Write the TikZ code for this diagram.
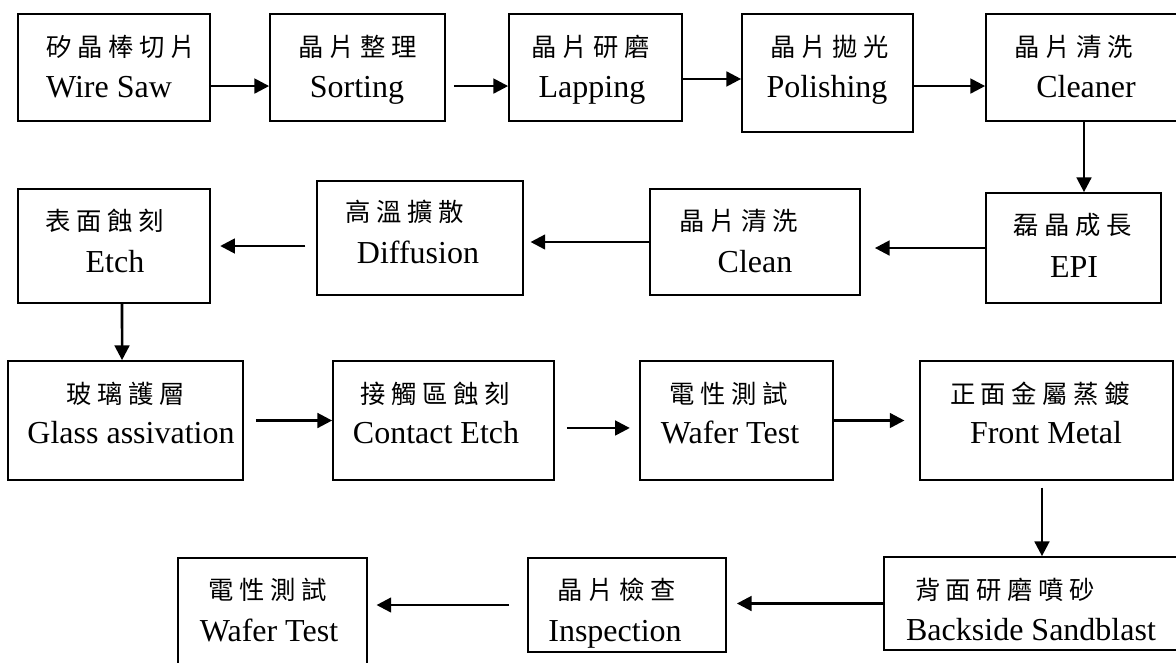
\documentclass[tikz,border=0pt]{standalone}
\usepackage{fontspec}
\setmainfont{Liberation Serif}
\newfontfamily\cjk{Noto Sans CJK TC}[LetterSpace=22]
\usetikzlibrary{arrows.meta}

\begin{document}
\begin{tikzpicture}[x=0.75pt, y=-0.75pt,
  stepbox/.style = {draw, line width=1.3pt, inner sep=0pt},
  zh/.style = {inner sep=0pt, font=\cjk\fontsize{19}{21}\selectfont},
  en/.style = {inner sep=0pt, anchor=base, font=\fontsize{24}{27}\selectfont},
  flow/.style = {line width=1.9pt, -{Triangle[length=11pt, width=11pt]}}]
  \useasboundingbox (0, 0) rectangle (1176, 662);

  \node[stepbox, minimum width=144pt, minimum height=80.25pt] (saw) at (114, 67.5) {};
  \node[stepbox, minimum width=131.25pt, minimum height=80.25pt] (sort) at (357.5, 67.5) {};
  \node[stepbox, minimum width=129.75pt, minimum height=80.25pt] (lap) at (595.5, 67.5) {};
  \node[stepbox, minimum width=128.25pt, minimum height=88.5pt] (pol) at (827.5, 73) {};
  \node[stepbox, minimum width=147pt, minimum height=80.25pt] (clean1) at (1084, 67.5) {};

  \node[stepbox, minimum width=131.25pt, minimum height=82.5pt] (epi) at (1073.5, 248) {};
  \node[stepbox, minimum width=157.5pt, minimum height=79.5pt] (clean2) at (755, 242) {};
  \node[stepbox, minimum width=154.5pt, minimum height=85.5pt] (diff) at (420, 238) {};
  \node[stepbox, minimum width=144pt, minimum height=85.5pt] (etch) at (114, 246) {};

  \node[stepbox, minimum width=176.25pt, minimum height=89.25pt] (glass) at (125.5, 420.5) {};
  \node[stepbox, minimum width=165.75pt, minimum height=89.25pt] (contact) at (443.5, 420.5) {};
  \node[stepbox, minimum width=144.75pt, minimum height=89.25pt] (test1) at (736.5, 420.5) {};
  \node[stepbox, minimum width=189.75pt, minimum height=89.25pt] (metal) at (1046.5, 420.5) {};

  \node[stepbox, minimum width=223.5pt, minimum height=69.75pt] (back) at (1033, 603.5) {};
  \node[stepbox, minimum width=148.5pt, minimum height=70.5pt] (insp) at (627, 605) {};
  \node[stepbox, minimum width=141.75pt, minimum height=91.5pt] (test2) at (272.5, 619) {};

  \node[zh] (saw-zh) at (121, 47) {矽晶棒切片};
  \node[en] (saw-en) at (109, 97) {Wire Saw};
  \node[zh] (sort-zh) at (358, 47) {晶片整理};
  \node[en] (sort-en) at (357, 97) {Sorting};
  \node[zh] (lap-zh) at (591, 47) {晶片研磨};
  \node[en] (lap-en) at (592, 97) {Lapping};
  \node[zh] (pol-zh) at (830, 47) {晶片拋光};
  \node[en] (pol-en) at (827, 97) {Polishing};
  \node[zh] (clean1-zh) at (1074, 47) {晶片清洗};
  \node[en] (clean1-en) at (1086, 97) {Cleaner};

  \node[zh] (epi-zh) at (1073, 225) {磊晶成長};
  \node[en] (epi-en) at (1074, 277) {EPI};
  \node[zh] (clean2-zh) at (739, 221) {晶片清洗};
  \node[en] (clean2-en) at (755, 272) {Clean};
  \node[zh] (diff-zh) at (405, 212) {高溫擴散};
  \node[en] (diff-en) at (418, 263) {Diffusion};
  \node[zh] (etch-zh) at (105, 221) {表面蝕刻};
  \node[en] (etch-en) at (115, 272) {Etch};

  \node[zh] (glass-zh) at (126, 394) {玻璃護層};
  \node[en] (glass-en) at (131, 443) {Glass assivation};
  \node[zh] (contact-zh) at (435, 394) {接觸區蝕刻};
  \node[en] (contact-en) at (436, 443) {Contact Etch};
  \node[zh] (test1-zh) at (729, 394) {電性測試};
  \node[en] (test1-en) at (730, 443) {Wafer Test};
  \node[zh] (metal-zh) at (1040, 394) {正面金屬蒸鍍};
  \node[en] (metal-en) at (1046, 443) {Front Metal};

  \node[zh] (back-zh) at (1005, 590) {背面研磨噴砂};
  \node[en] (back-en) at (1031, 640) {Backside Sandblast};
  \node[zh] (insp-zh) at (617, 590) {晶片檢查};
  \node[en] (insp-en) at (615, 641) {Inspection};
  \node[zh] (test2-zh) at (268, 590) {電性測試};
  \node[en] (test2-en) at (269, 641) {Wafer Test};

  \draw[flow] ([yshift=-13.9pt]saw.east) -- ([yshift=-13.9pt]sort.west);
  \draw[flow, shorten <=6pt] ([yshift=-13.9pt]sort.east) -- ([yshift=-13.9pt]lap.west);
  \draw[flow] ([yshift=-8.6pt]lap.east) -- ([yshift=-8.6pt]lap.east -| pol.west);
  \draw[flow] ([yshift=-13.9pt]clean1.west -| pol.east) -- ([yshift=-13.9pt]clean1.west);
  \draw[flow] (clean1.south) -- (clean1.south |- epi.north);

  \draw[flow, shorten >=10.5pt] (epi.west) -- (epi.west -| clean2.east);
  \draw[flow, shorten >=5pt] (clean2.west) -- (clean2.west -| diff.east);
  \draw[flow, shorten <=8pt, shorten >=7pt] (etch.east -| diff.west) -- (etch.east);
  \draw[flow] ([xshift=6pt]etch.south) -- ([xshift=-2.6pt]glass.north);

  \draw[flow, shorten <=9pt] (glass.east) -- (contact.west);
  \draw[flow, shorten <=9pt, shorten >=7pt] ([yshift=-5.6pt]contact.east) -- ([yshift=-5.6pt]test1.west);
  \draw[flow, shorten >=11pt] (test1.east) -- (metal.west);
  \draw[flow, shorten <=5pt] ([xshift=-3.4pt]metal.south) -- ([xshift=-3.4pt]metal.south |- back.north);

  \draw[flow, shorten >=7.5pt] (back.west) -- (back.west -| insp.east);
  \draw[flow, shorten <=13.5pt, shorten >=6.5pt] (insp.west) -- (insp.west -| test2.east);
\end{tikzpicture}
\end{document}
